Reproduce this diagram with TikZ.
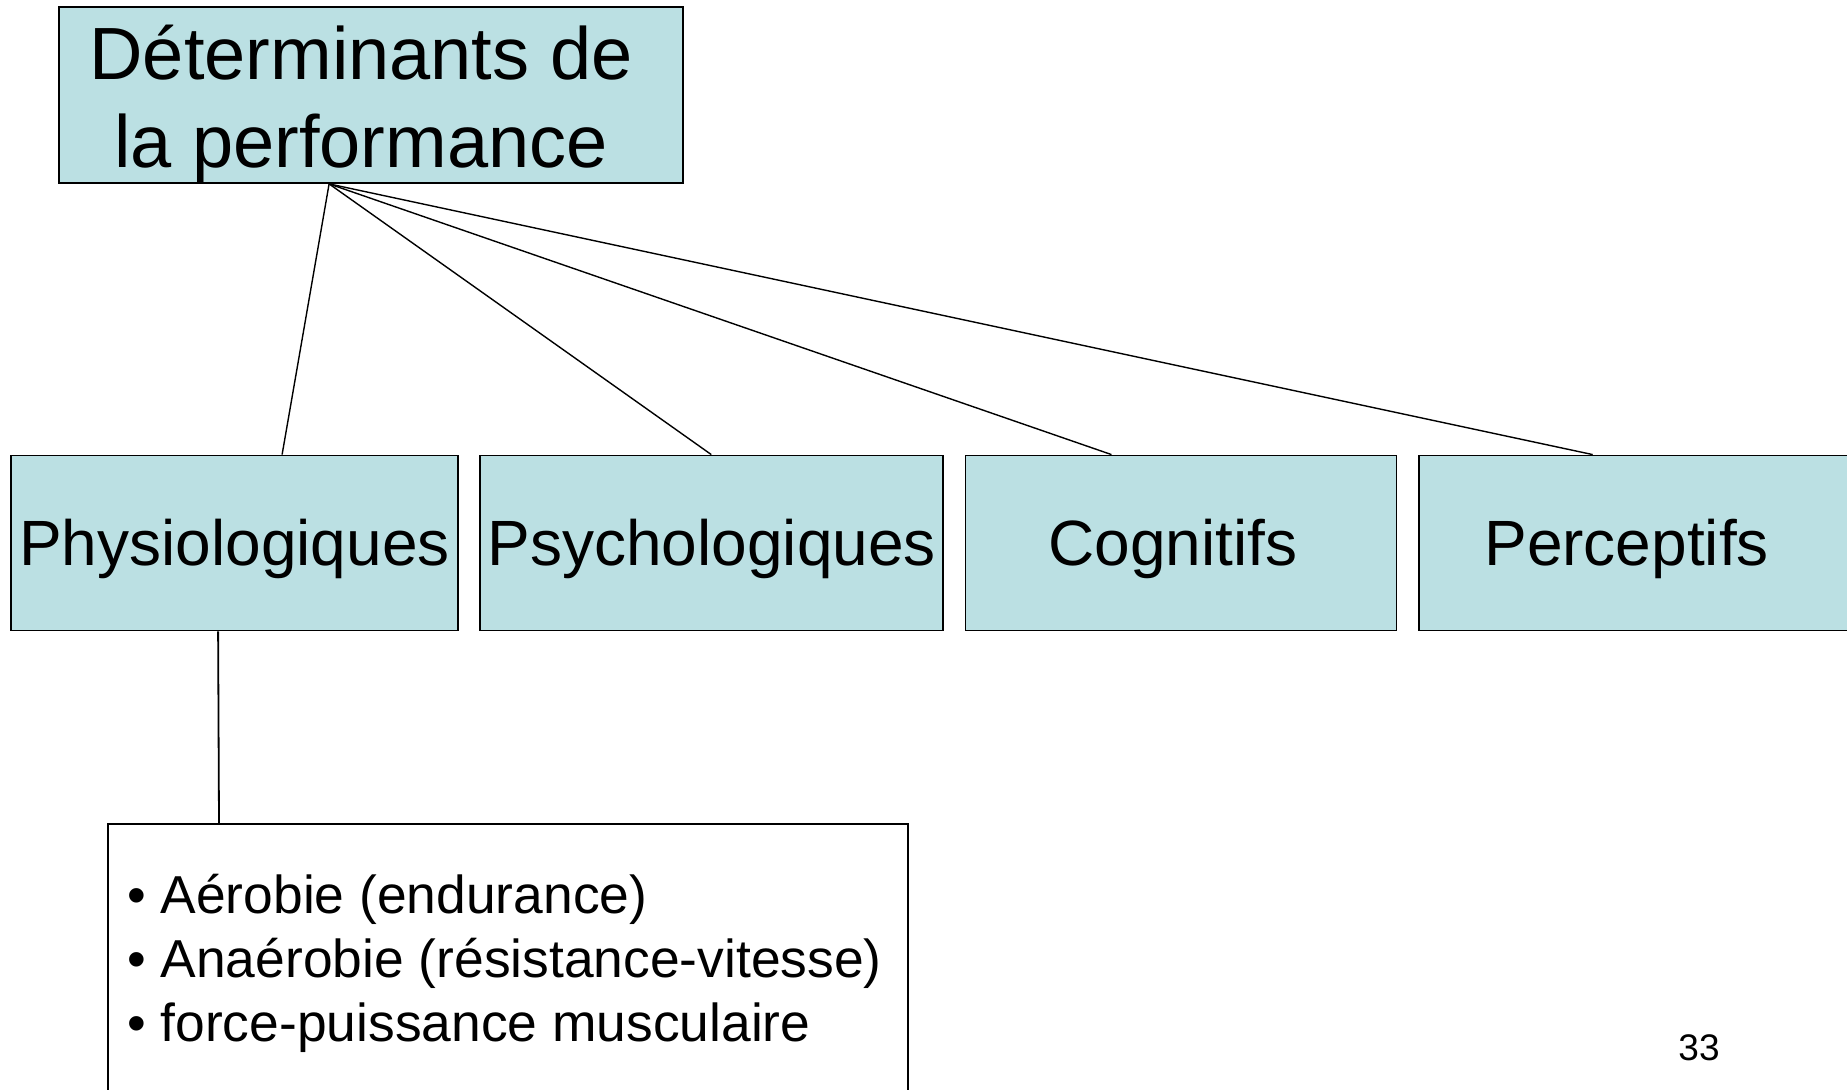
\documentclass[tikz,border=0pt]{standalone}
\usepackage{fontspec}
\setmainfont{Liberation Sans}
\usetikzlibrary{positioning,calc}
\definecolor{boxfill}{HTML}{BBE0E3}
\tikzset{
    catbox/.style={draw, line width=0.9pt, fill=boxfill, minimum height=87.5pt, inner sep=0pt,
        font=\fontsize{32}{38}\selectfont, text height=23pt, text depth=0pt},
    topbox/.style={draw, line width=0.9pt, fill=boxfill, minimum width=312pt, minimum height=88pt, inner sep=0pt},
    listbox/.style={draw, line width=0.9pt, fill=white, minimum width=400pt, minimum height=139.5pt, inner sep=0pt},
    link/.style={line width=0.7pt}
}

\begin{document}
\begin{tikzpicture}[x=0.5pt, y=-0.5pt, node distance=10.2pt]
                \useasboundingbox (0,0) rectangle (1847,1090);
                \node[topbox] (det) at (371,95) {\raisebox{-4.5pt}[\height][\depth]{\parbox{300pt}{\centering\fontsize{37}{44}\selectfont D\'eterminants de\\la performance}}\hspace*{10pt}};
                \node[catbox, minimum width=223.5pt] (phys) at (234.5,543) {Physiologiques};
                \node[catbox, minimum width=231.5pt, right=of phys] (psych) {Psychologiques};
                \node[catbox, minimum width=215.5pt, right=of psych] (cog) {Cognitifs\hspace*{8pt}};
                \node[catbox, minimum width=216pt, right=of cog] (perc) {Perceptifs\hspace*{8pt}};
                \node[listbox, anchor=north west] (list) at (107,823) {\parbox{380pt}{\fontsize{26.7}{32}\selectfont
                    \textbullet\hspace{7pt}A\'erobie (endurance)\\
                    \textbullet\hspace{7pt}Ana\'erobie (r\'esistance-vitesse)\\
                    \textbullet\hspace{7pt}force-puissance musculaire}};
                \node[anchor=base, font=\fontsize{18.5}{22}\selectfont] (page) at (1699,1060) {33};
                \coordinate (fan) at ($(det.south west)+(271,0)$);
                \draw[link] (fan) -- ($(phys.north west)+(272,0)$);
                \draw[link] (fan) -- ($(psych.north west)+(232,0)$);
                \draw[link] (fan) -- ($(cog.north west)+(147,0)$);
                \draw[link] (fan) -- ($(perc.north west)+(175,0)$);
                \draw[line width=0.9pt] ($(phys.south west)+(208,0)$) -- ($(list.north west)+(112,0)$);
            \end{tikzpicture}
\end{document}
